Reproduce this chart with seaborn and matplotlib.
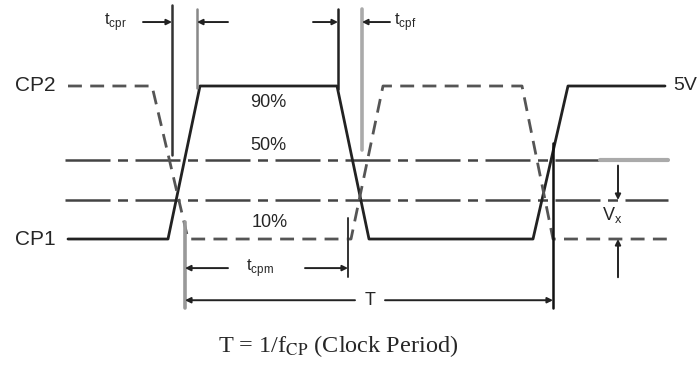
import numpy as np
import pandas as pd
import seaborn as sns
import matplotlib.pyplot as plt

# waveform data: time (arbitrary units) and level in % of swing (0 = low, 100 = high)
cp1_t = [68, 168, 200, 337, 369, 533, 568, 665]
cp1_lvl = [0, 0, 100, 100, 0, 0, 100, 100]
cp2_t = [68, 152, 188, 351, 383, 522, 553, 668]
cp2_lvl = [100, 100, 0, 0, 100, 100, 0, 0]

# reference levels across the diagram
ref_lvl_50 = 51.6
ref_lvl_x = 25.5
ref_t = [65, 668]

# timing markers: (time, level from, level to, colour, width)
markers = [
    (172, 153, 55, '#333333', 1.8),
    (197, 150, 99, '#888888', 1.8),
    (338, 150, 98, '#222222', 1.8),
    (362, 150, 58, '#aaaaaa', 2.6),
    (185, 11, -45, '#999999', 2.6),
    (348, 14, -25, '#333333', 1.4),
    (553, 63, -45, '#111111', 1.8),
]

sns.set_style("white")
plt.rcParams['font.family'] = ['Liberation Sans', 'DejaVu Sans']
plt.rcParams['mathtext.fontset'] = 'custom'
plt.rcParams['mathtext.rm'] = 'Liberation Sans'

fig = plt.figure(figsize=(6.98, 3.70), dpi=100)
ax = fig.add_axes([0, 0, 1, 1])
ax.set_xlim(0, 698)
ax.set_ylim(-85.6, 156.2)
ax.axis('off')

# reference lines
ax.plot(ref_t, [ref_lvl_50] * 2, color='#444444', lw=1.8, linestyle=(0, (18, 3, 4, 3)))
ax.plot(ref_t, [ref_lvl_x] * 2, color='#444444', lw=1.8, linestyle=(0, (18, 3, 4, 3)))
ax.plot([600, 668], [ref_lvl_50] * 2, color='#aaaaaa', lw=3)

# waveforms
df1 = pd.DataFrame({'t': cp1_t, 'lvl': cp1_lvl})
df2 = pd.DataFrame({'t': cp2_t, 'lvl': cp2_lvl})
sns.lineplot(data=df1, x='t', y='lvl', sort=False, estimator=None, ax=ax,
             color='#222222', lw=2)
sns.lineplot(data=df2, x='t', y='lvl', sort=False, estimator=None, ax=ax,
             color='#555555', lw=2, linestyle=(0, (5, 3)))

for t, a, b, c, w in markers:
    ax.plot([t, t], [a, b], color=c, lw=w)

# dimension arrows
arr = dict(arrowstyle='-|>', color='#222222', lw=1.4, mutation_scale=8,
           shrinkA=0, shrinkB=0)
def dim(x0, x1, y):
    ax.annotate('', xy=(x1, y), xytext=(x0, y), arrowprops=arr)

dim(143, 172, 141.8)
dim(228, 197, 141.8)
dim(313, 338, 141.8)
dim(390, 362, 141.8)
dim(228, 185, -19)
dim(305, 348, -19)
dim(355, 185, -40)
dim(385, 553, -40)
ax.annotate('', xy=(618, ref_lvl_x), xytext=(618, 48), arrowprops=arr)
ax.annotate('', xy=(618, 0), xytext=(618, -25), arrowprops=arr)

fs = 13
ax.text(115, 141.8, r'$\mathrm{t}_{\mathrm{cpr}}$', fontsize=12, ha='center', va='center')
ax.text(405, 141.8, r'$\mathrm{t}_{\mathrm{cpf}}$', fontsize=12, ha='center', va='center')
ax.text(260, -19, r'$\mathrm{t}_{\mathrm{cpm}}$', fontsize=12, ha='center', va='center')
ax.text(370, -40, 'T', fontsize=fs, ha='center', va='center')
ax.text(612, 15.7, r'$\mathrm{V}_{\mathrm{x}}$', fontsize=fs, ha='center', va='center')

ax.text(15, 100, 'CP2', fontsize=15, ha='left', va='center')
ax.text(15, 0, 'CP1', fontsize=15, ha='left', va='center')
ax.text(673, 100, '5V', fontsize=14, ha='left', va='center')
ax.text(268, 89.5, '90%', fontsize=fs, ha='center', va='center')
ax.text(268, 61.4, '50%', fontsize=fs, ha='center', va='center')
ax.text(270, 11, '10%', fontsize=fs, ha='center', va='center')

# caption in a Times-like face, subscript set low
ax.text(338, -70, r'T = 1/f$_{\mathrm{CP}}$ (Clock Period)', fontsize=17.5,
        ha='center', va='center', family='Liberation Serif',
        math_fontfamily='stix')

fig.savefig('out.png', dpi=100)
